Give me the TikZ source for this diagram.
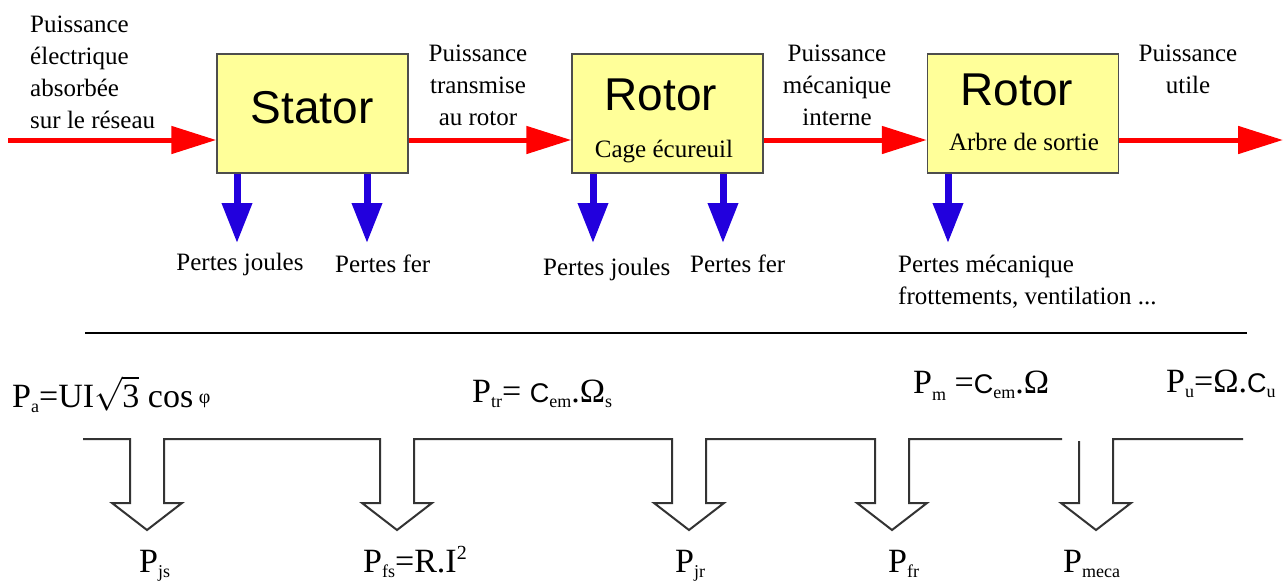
\documentclass[tikz,border=0pt]{standalone}
\usepackage{amsmath}
\usepackage{unicode-math}
\setmainfont{Liberation Serif}
\newfontfamily\arial{Liberation Sans}
\usetikzlibrary{arrows.meta}
\definecolor{cpow}{HTML}{FF0000}
\definecolor{cper}{HTML}{2200DD}
\definecolor{cbox}{HTML}{FFFF99}
\definecolor{cbrd}{HTML}{4D4D4D}
\definecolor{cflx}{HTML}{333333}
\newcommand{\idx}[1]{\raisebox{-5pt}{\fontsize{18}{18}\selectfont #1}}
\newcommand{\pwr}[1]{\raisebox{13pt}{\fontsize{20}{20}\selectfont #1}}
\newcommand{\csym}{{\arial\fontsize{27}{27}\selectfont C}}

\begin{document}
\begin{tikzpicture}[x=1pt,y=-1pt,
    box/.style={draw=cbrd,line width=1.5pt,fill=cbox,minimum width=191pt,minimum height=119pt,inner sep=0pt},
    big/.style={font=\arial\fontsize{46}{46}\selectfont,inner sep=0pt,anchor=base},
    txt/.style={font=\fontsize{25}{32}\selectfont,inner sep=0pt},
    frm/.style={font=\fontsize{34}{34}\selectfont,inner sep=0pt,anchor=base west},
    power/.style={cpow,line width=5pt,-{Triangle[length=45pt,width=27pt]}},
    loss/.style={cper,line width=7pt,-{Triangle[length=40pt,width=29pt]}},
    flux/.style={cflx,line width=2pt}]
    \useasboundingbox (0,0) rectangle (1284,581);
    \fill[white] (0,0) rectangle (1284,581);
    \node[box] (stator) at (312.5,113.5) {};
    \node[box] (rotorA) at (667.5,113.5) {};
    \node[box] (rotorB) at (1023,113.5) {};
    \node[big] (statorname) at (312,123) {Stator};
    \node[big] (rotorAname) at (661,110) {Rotor};
    \node[big] (rotorBname) at (1017,105) {Rotor};
    \node[txt,anchor=base] (cage) at (664,157) {Cage écureuil};
    \node[txt,anchor=base] (arbre) at (1024,150) {Arbre de sortie};
    \coordinate (in) at (8,140);
    \coordinate (out) at (1283,140);
    \draw[power] (in) -- (in -| stator.west);
    \draw[power] (stator.east |- in) -- (rotorA.west |- in);
    \draw[power] (rotorA.east |- in) -- (rotorB.west |- in);
    \draw[power] (rotorB.east |- in) -- (out);
    \node[txt,anchor=north west,align=left] (pelec) at (30,16) {Puissance\\électrique\\absorbée\\sur le réseau};
    \node[txt,anchor=north,align=center] (ptrans) at (478,45) {Puissance\\transmise\\au rotor};
    \node[txt,anchor=north,align=center] (pmeci) at (837,45) {Puissance\\mécanique\\interne};
    \node[txt,anchor=north,align=center] (putil) at (1188,45) {Puissance\\utile};
    \foreach \b/\x/\n in {stator/237/lsA,stator/367/lsB,rotorA/593/lsC,rotorA/723/lsD,rotorB/948/lsE} {
      \coordinate (\n) at (\x,243);
      \draw[loss] (\b.south -| \n) -- (\n);
    }
    \node[txt,anchor=base] (pjsA) at (240,270) {Pertes joules};
    \node[txt,anchor=base west] (pfsA) at (335,272) {Pertes fer};
    \node[txt,anchor=base west] (pjrA) at (543,275) {Pertes joules};
    \node[txt,anchor=base west] (pfrA) at (690,272) {Pertes fer};
    \node[txt,anchor=north west,align=left] (pmecA) at (898,255) {Pertes mécanique\\frottements, ventilation ...};
    \draw[line width=1.5pt] (85,333) -- (1247,333);
    \draw[flux] (83,439) foreach \x in {147,397,689,892} {-- (\x-17,439) -- (\x-17,503) -- (\x-35,503) -- (\x,530) -- (\x+35,503) -- (\x+17,503) -- (\x+17,439)} -- (1062,439);
    \draw[flux] (1079,441) -- (1079,503) -- (1061,503) -- (1096,530) -- (1131,503) -- (1113,503) -- (1113,439) -- (1243,439);
    \node[frm] (pa) at (12,407) {P\idx{a}=UI$\sqrt{\text{3}}$ cos\,\raisebox{4pt}{\fontsize{20}{20}\selectfont φ}};
    \node[frm] (ptr) at (472,402) {P\idx{tr}= \csym\idx{em}.Ω\idx{s}};
    \node[frm] (pm) at (913,393) {P\raisebox{-7pt}{\fontsize{18}{18}\selectfont m} =\csym\idx{em}.Ω};
    \node[frm] (pu) at (1166,392) {P\idx{u}=Ω.\csym\idx{u}};
    \node[frm] (pjs) at (139,572) {P\idx{js}};
    \node[frm] (pfs) at (363,572) {P\idx{fs}=R.I\pwr{2}};
    \node[frm] (pjr) at (675,572) {P\idx{jr}};
    \node[frm] (pfr) at (888,572) {P\idx{fr}};
    \node[frm] (pmeca) at (1063,572) {P\idx{meca}};
  \end{tikzpicture}
\end{document}
